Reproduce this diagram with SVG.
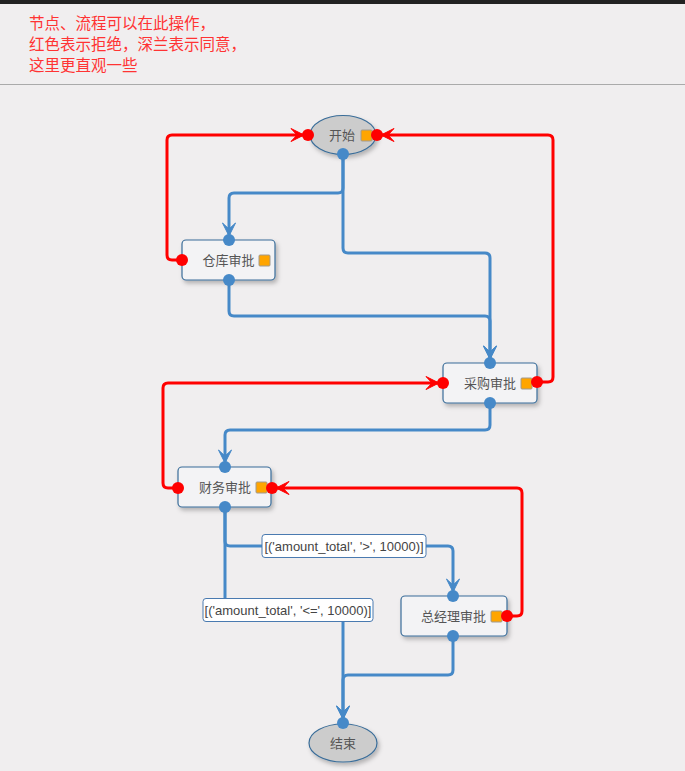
<svg xmlns="http://www.w3.org/2000/svg" width="685" height="771" viewBox="0 0 685 771">
<style>
.bg{fill:#f0eeef}
.note{fill:#f33;font-family:"Noto Sans CJK SC","Liberation Sans",sans-serif;font-size:15.5px}
.node{fill:#f3f3f5;stroke:#3a6d99;stroke-width:1.2}
.ell{fill:#cccccc;stroke:#3a6d99;stroke-width:1.2}
.lbl{fill:#555;font-family:"Noto Sans CJK SC","Liberation Sans",sans-serif;font-size:13px;text-anchor:middle}
.sq{fill:#ffa500;stroke:#a09a90;stroke-width:1}
.ok{fill:none;stroke:#4689c8;stroke-width:3;marker-end:url(#ab)}
.no{fill:none;stroke:#ff0000;stroke-width:3;marker-end:url(#ar)}
.db{fill:#4689c8}
.dr{fill:#ff0000}
.cb{fill:#fff;stroke:#4a7ab0;stroke-width:1}
.ct{fill:#444;font-family:"Liberation Sans",Arial,sans-serif;font-size:13px;text-anchor:middle}
</style>
<defs>
<marker id="ab" viewBox="-14 -8 16 16" refX="0" refY="0" markerWidth="16" markerHeight="16" markerUnits="userSpaceOnUse" orient="auto"><path d="M-13,-6.5 L0,0 L-13,6.5 L-7,0 z" fill="#4689c8" stroke="#4689c8" stroke-width="1" stroke-linejoin="round"/></marker>
<marker id="ar" viewBox="-14 -8 16 16" refX="0" refY="0" markerWidth="16" markerHeight="16" markerUnits="userSpaceOnUse" orient="auto"><path d="M-13,-6.5 L0,0 L-13,6.5 L-7,0 z" fill="#ff0000" stroke="#ff0000" stroke-width="1" stroke-linejoin="round"/></marker>
<filter id="sh" x="-20%" y="-20%" width="150%" height="160%"><feDropShadow dx="2" dy="3" stdDeviation="2" flood-color="#000" flood-opacity="0.25"/></filter>
</defs>
<rect class="bg" x="0" y="0" width="685" height="771"/>
<rect x="0" y="0" width="685" height="4" fill="#222"/>
<line x1="0" y1="84.5" x2="685" y2="84.5" stroke="#aaa" stroke-width="1.2"/>
<g id="note">
<text class="note" x="29" y="29">节点、流程可以在此操作，</text>
<text class="note" x="29" y="50">红色表示拒绝，深兰表示同意，</text>
<text class="note" x="29" y="71">这里更直观一些</text>
</g>
<g id="connectors">
<path class="ok" d="M343,154 V188 Q343,193 338,193 H234 Q229,193 229,198 V236"/>
<path class="ok" d="M343,154 V248 Q343,253 348,253 H485 Q490,253 490,258 V359"/>
<path class="ok" d="M229,280 V311 Q229,316 234,316 H485 Q490,316 490,321 V359"/>
<path class="ok" d="M490,403 V425 Q490,430 485,430 H230 Q225,430 225,435 V463"/>
<path class="ok" d="M225,507 V541 Q225,546 230,546 H448 Q453,546 453,551 V592"/>
<path class="ok" d="M225,507 V605 Q225,610 230,610 H338 Q343,610 343,615 V719"/>
<path class="ok" d="M453,636 V670 Q453,675 448,675 H348 Q343,675 343,680 V719"/>
<path class="no" d="M182,260 H172 Q167,260 167,255 V140 Q167,135 172,135 H304"/>
<path class="no" d="M537,382 H548 Q553,382 553,377 V140 Q553,135 548,135 H381"/>
<path class="no" d="M178,488 H168 Q163,488 163,483 V388 Q163,383 168,383 H439"/>
<path class="no" d="M507,616 H517 Q522,616 522,611 V493 Q522,488 517,488 H276"/>
<rect class="cb" x="262" y="534.5" width="164" height="23" rx="3"/>
<text class="ct" x="344" y="551">[('amount_total', '&gt;', 10000)]</text>
<rect class="cb" x="203" y="598.5" width="170" height="23" rx="3"/>
<text class="ct" x="288" y="615">[('amount_total', '&lt;=', 10000)]</text>
</g>
<g id="start">
<ellipse class="ell" cx="343" cy="135" rx="33" ry="19.5" filter="url(#sh)"/>
<text class="lbl" x="342" y="140">开始</text>
<rect class="sq" x="361" y="130" width="11" height="11" rx="1"/>
<circle class="dr" cx="308" cy="135" r="6"/>
<circle class="dr" cx="377" cy="135" r="6"/>
<circle class="db" cx="343" cy="154" r="6"/>
</g>
<g id="warehouse">
<rect class="node" x="182" y="240" width="93" height="40" rx="4" filter="url(#sh)"/>
<text class="lbl" x="228.5" y="265">仓库审批</text>
<rect class="sq" x="259" y="255" width="11" height="11" rx="1"/>
<circle class="dr" cx="182" cy="260" r="6"/>
<circle class="db" cx="229" cy="240" r="6"/>
<circle class="db" cx="229" cy="280" r="6"/>
</g>
<g id="purchase">
<rect class="node" x="443" y="363" width="94" height="40" rx="4" filter="url(#sh)"/>
<text class="lbl" x="490" y="388">采购审批</text>
<rect class="sq" x="521" y="378" width="11" height="11" rx="1"/>
<circle class="dr" cx="443" cy="383" r="6"/>
<circle class="dr" cx="537" cy="382" r="6"/>
<circle class="db" cx="490" cy="363" r="6"/>
<circle class="db" cx="490" cy="403" r="6"/>
</g>
<g id="finance">
<rect class="node" x="178" y="467" width="93" height="40" rx="4" filter="url(#sh)"/>
<text class="lbl" x="225" y="492">财务审批</text>
<rect class="sq" x="256" y="482" width="11" height="11" rx="1"/>
<circle class="dr" cx="178" cy="488" r="6"/>
<circle class="dr" cx="272" cy="488" r="6"/>
<circle class="db" cx="225" cy="467" r="6"/>
<circle class="db" cx="225" cy="507" r="6"/>
</g>
<g id="gm">
<rect class="node" x="401" y="596" width="106" height="40" rx="4" filter="url(#sh)"/>
<text class="lbl" x="453.5" y="621">总经理审批</text>
<rect class="sq" x="491" y="611" width="11" height="11" rx="1"/>
<circle class="dr" cx="507" cy="616" r="6"/>
<circle class="db" cx="453" cy="596" r="6"/>
<circle class="db" cx="453" cy="636" r="6"/>
</g>
<g id="end">
<ellipse class="ell" cx="343" cy="743" rx="34" ry="19" filter="url(#sh)"/>
<text class="lbl" x="343" y="748">结束</text>
<circle class="db" cx="343" cy="723" r="6"/>
</g>
</svg>
